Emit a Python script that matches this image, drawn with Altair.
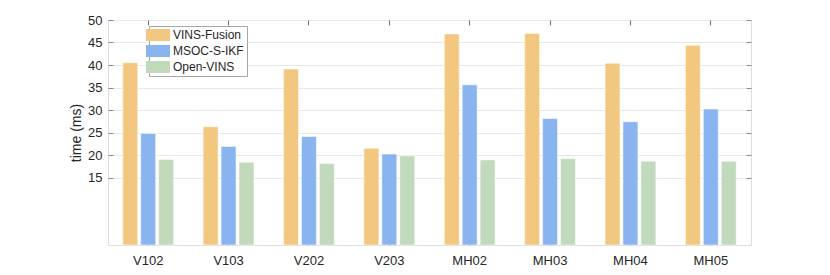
import altair as alt
import pandas as pd

sequences = ["V102", "V103", "V202", "V203", "MH02", "MH03", "MH04", "MH05"]
methods = ["VINS-Fusion", "MSOC-S-IKF", "Open-VINS"]
vins_fusion = [40.5, 26.3, 39.1, 21.5, 46.9, 47.0, 40.4, 44.4]
msoc_s_ikf = [24.8, 21.9, 24.1, 20.2, 35.6, 28.1, 27.4, 30.2]
open_vins = [19.0, 18.4, 18.1, 19.8, 18.9, 19.2, 18.6, 18.6]
colors = ["#F2C880", "#8AB4F0", "#C1DABC"]
y_ticks = [15, 20, 25, 30, 35, 40, 45, 50]

rows = []
for m, vals in zip(methods, [vins_fusion, msoc_s_ikf, open_vins]):
    for s, v in zip(sequences, vals):
        rows.append({"seq": s, "method": m, "time": v})
df = pd.DataFrame(rows)

FONT = "Liberation Sans"
W, H = 643, 225

x_scale = alt.Scale(domain=sequences, paddingInner=0, paddingOuter=0)
y_scale = alt.Scale(domain=[0, 50], nice=False, zero=True)

bars = alt.Chart(df).mark_bar(
    stroke="white", strokeOpacity=0.5, strokeWidth=1
).encode(
    x=alt.X("seq:N", sort=sequences, scale=x_scale,
            axis=alt.Axis(title=None, orient="bottom", offset=-5, tickSize=5,
                          tickColor="#6e6e6e", domain=False, labelAngle=0,
                          labelPadding=9, labelFont=FONT, labelFontSize=13,
                          labelColor="#262626", grid=False)),
    xOffset=alt.XOffset("method:N", sort=methods,
                        scale=alt.Scale(domain=methods, paddingInner=0.167, paddingOuter=0.825)),
    y=alt.Y("time:Q", scale=y_scale,
            axis=alt.Axis(title="time (ms)", orient="left", values=y_ticks, offset=-5,
                          tickSize=5, tickColor="#8a8a8a", domain=False,
                          labelPadding=6, labelFont=FONT, labelFontSize=13,
                          labelColor="#262626", titleFont=FONT, titleFontSize=14,
                          titleFontWeight="normal", titleColor="#262626", titlePadding=4,
                          grid=True, gridColor="#e8e8e8")),
    color=alt.Color("method:N", sort=methods,
                    scale=alt.Scale(domain=methods, range=colors),
                    legend=alt.Legend(orient="none", legendX=41, legendY=6, title=None,
                                      fillColor="white", strokeColor="#a6a6a6",
                                      padding=3, symbolType="M-2,-1H2V1H-2Z",
                                      symbolSize=144, symbolStrokeWidth=0,
                                      symbolOpacity=1, labelFont=FONT,
                                      labelFontSize=12, labelColor="#262626",
                                      rowPadding=4, labelOffset=9)),
)

frame_axes = alt.Chart(df).mark_bar(opacity=0).encode(
    x=alt.X("seq:N", sort=sequences, scale=x_scale,
            axis=alt.Axis(title=None, orient="top", offset=-5, tickSize=5,
                          tickColor="#6e6e6e", domain=False, labels=False, grid=False)),
    y=alt.Y("time:Q", scale=y_scale,
            axis=alt.Axis(title=None, orient="right", values=y_ticks, offset=-5,
                          tickSize=5, tickColor="#8a8a8a", domain=False,
                          labels=False, grid=False)),
)

chart = alt.layer(bars, frame_axes).resolve_axis(
    x="independent", y="independent"
).properties(
    width=W, height=H,
    autosize=alt.AutoSizeParams(type="none"),
    padding={"left": 100, "top": 12, "right": 71, "bottom": 30},
).configure_view(
    fill="#f7f7f7", stroke="#808080", strokeWidth=1
).configure(background="white")

chart.save("out.html", embed_options={"renderer": "svg", "actions": False})
